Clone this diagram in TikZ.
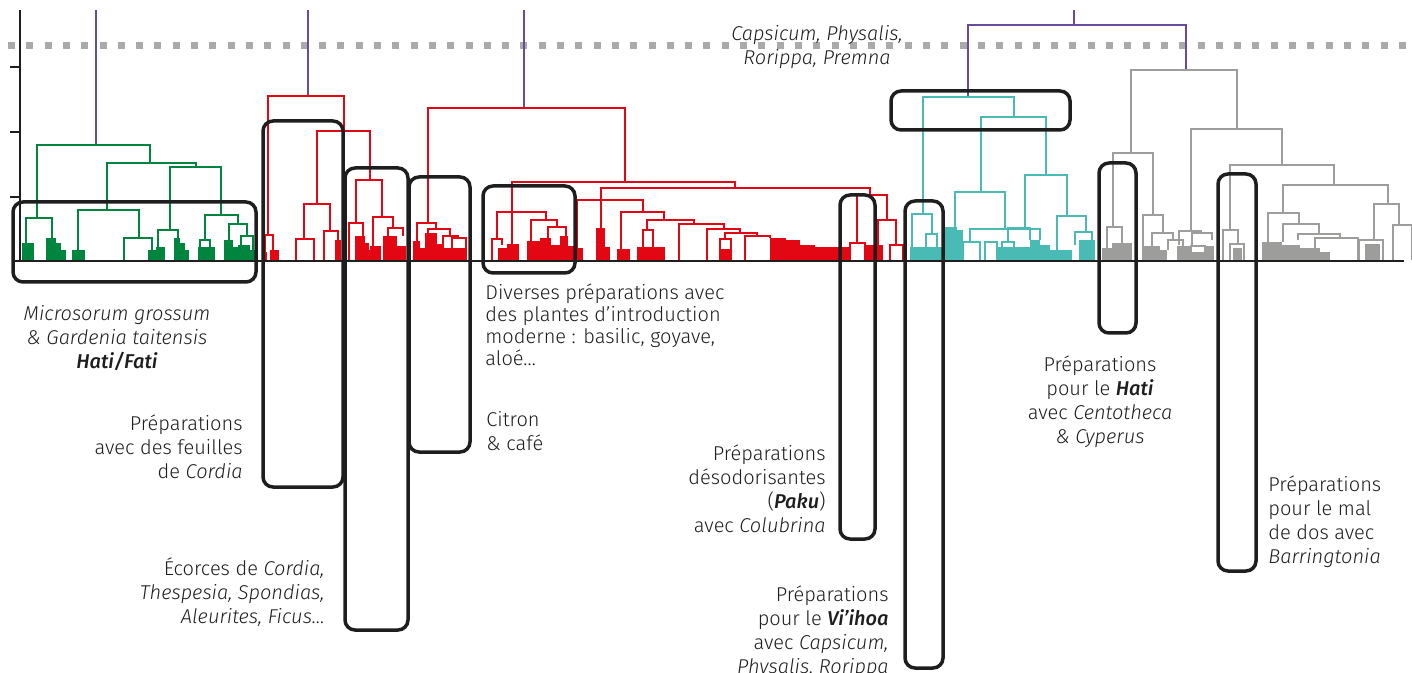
\documentclass[tikz,border=0pt]{standalone}
\usepackage{fontspec}
\setmainfont{Fira Sans}[UprightFont=* Light, ItalicFont=* Light Italic,
  BoldFont=* Medium, BoldItalicFont=* Medium Italic]

\definecolor{dgreen}{RGB}{0,133,62}
\definecolor{dred}{RGB}{227,6,19}
\definecolor{dteal}{RGB}{74,186,180}
\definecolor{dgrey}{RGB}{157,157,156}
\definecolor{dpurple}{RGB}{102,76,158}
\definecolor{ddash}{RGB}{170,170,170}
\definecolor{dink}{RGB}{30,30,30}

% bracket: left x, right x, height, foot of left, foot of right
\newcommand\lnk[5]{\draw[tree] (#1,#4) -- (#1,#3) -- (#2,#3) -- (#2,#5);}
% leaf block down to the base line
\newcommand\blk[3]{\fill (#1,#3) rectangle (#2,260);}

\begin{document}
\begin{tikzpicture}[x=0.5pt,y=-0.5pt,
    tree/.style={line width=1.2pt},
    frame/.style={draw=dink,line width=1.75pt,rounded corners=5pt},
    lbl/.style={inner sep=0pt,text=dink,font=\fontsize{10}{12}\selectfont}]

    \useasboundingbox (0,0) rectangle (1412,673);

    % cut level
    \draw[ddash,line width=3.5pt,dash pattern=on 3.5pt off 5.65pt] (8,46) -- (1412,46);

    % axis
    \draw[dink,line width=1.1pt] (20,10) -- (20,262);
    \draw[dink,line width=1.1pt] (10,67) -- (20,67) (10,132) -- (20,132) (10,197) -- (20,197);

    % top links
    \begin{scope}[dpurple]
        \draw[tree] (96,10) -- (96,145);
        \draw[tree] (308,10) -- (308,96);
        \draw[tree] (524,10) -- (524,108);
        \draw[tree] (1074,10) -- (1074,25);
        \lnk{968}{1186}{25}{96}{70}
    \end{scope}

    % green group
    \begin{scope}[dgreen]
        \lnk{37}{150}{145}{218}{163}
        \lnk{26}{52}{218}{243}{238}
        \blk{22}{34}{243}
        \blk{46}{56}{238} \blk{56}{61}{243} \blk{61}{66}{250}
        \lnk{107}{196}{163}{210}{167}
        \lnk{78}{139}{210}{250}{238}
        \blk{72}{85}{250}
        \lnk{124}{152}{238}{260}{250}
        \blk{148}{165}{250}
        \lnk{170}{221}{167}{230}{215}
        \lnk{158}{178}{230}{247}{238}
        \blk{156}{165}{247}
        \blk{174}{180}{238} \blk{180}{185}{243} \blk{185}{189}{250}
        \lnk{205}{238}{215}{240}{224}
        \lnk{200}{210}{240}{247}{247}
        \blk{198}{215}{247}
        \lnk{229}{247}{224}{240}{236}
        \blk{224}{233}{240} \blk{233}{240}{247}
        \lnk{241}{253}{236}{245}{250}
        \blk{238}{250}{245} \blk{250}{258}{250}
    \end{scope}

    % red groups
    \begin{scope}[dred]
        \lnk{268}{344}{96}{235}{131}
        \lnk{265}{273}{235}{252}{250}
        \blk{262}{267}{252} \blk{270}{279}{250}
        \lnk{317}{370}{131}{204}{180}
        \lnk{304}{330}{204}{239}{231}
        \lnk{296}{314}{239}{260}{260}
        \lnk{324}{338}{231}{260}{240}
        \blk{335}{341}{240}
        \lnk{356}{382}{180}{223}{217}
        \lnk{349}{363}{223}{260}{236}
        \blk{355}{365}{236} \blk{365}{369}{243} \blk{369}{372}{250}
        \lnk{373}{393}{217}{246}{228}
        \blk{370}{381}{246}
        \lnk{388}{403}{228}{236}{236}
        \blk{383}{397}{236} \blk{397}{406}{246}

        \lnk{428}{625}{108}{223}{182}
        \lnk{417}{436}{223}{241}{229}
        \blk{413}{420}{241} \blk{420}{425}{248}
        \lnk{428}{450}{229}{233}{236}
        \blk{425}{437}{233} \blk{437}{443}{244}
        \lnk{443}{458}{236}{248}{238}
        \lnk{452}{466}{238}{248}{248}
        \blk{443}{467}{248}

        \lnk{512}{735}{182}{244}{188}
        \blk{507}{519}{244}
        \lnk{497}{546}{212}{239}{220}
        \lnk{492}{502}{239}{260}{245}
        \blk{498}{508}{248}
        \lnk{531}{557}{220}{241}{227}
        \blk{527}{540}{241}
        \lnk{548}{566}{227}{238}{236}
        \blk{540}{551}{238} \blk{551}{560}{245} \blk{560}{568}{236} \blk{568}{575}{246}

        \lnk{601}{870}{188}{228}{195}
        \blk{596}{605}{228} \blk{605}{610}{247}
        \lnk{577}{643}{200}{248}{212}
        \blk{572}{583}{248}
        \lnk{621}{664}{212}{249}{220}
        \blk{617}{630}{249}
        \lnk{647}{694}{220}{230}{224}
        \lnk{643}{653}{230}{247}{247}
        \blk{637}{665}{247}
        \lnk{679}{724}{224}{260}{229}
        \lnk{707}{740}{229}{260}{233}
        \lnk{725}{757}{233}{239}{236}
        \lnk{720}{731}{239}{249}{249}
        \blk{719}{732}{249}
        \lnk{745}{770}{236}{260}{238}
        \blk{770}{786}{238} \blk{786}{800}{240} \blk{800}{815}{245} \blk{815}{849}{247}
        \lnk{857}{887}{195}{243}{220}
        \lnk{850}{865}{243}{260}{260}
        \blk{865}{883}{245}
        \lnk{878}{896}{220}{260}{245}
        \lnk{890}{903}{245}{260}{260}
    \end{scope}

    % teal group
    \begin{scope}[dteal]
        \lnk{923}{1014}{97}{214}{117}
        \lnk{912}{932}{214}{247}{234}
        \lnk{926}{937}{234}{247}{247}
        \blk{910}{943}{247}
        \blk{943}{957}{227} \blk{957}{963}{230}
        \lnk{981}{1046}{117}{192}{175}
        \lnk{955}{1005}{192}{227}{229}
        \lnk{970}{1040}{229}{242}{240}
        \lnk{963}{980}{242}{260}{260}
        \lnk{985}{997}{242}{260}{260}
        \lnk{1025}{1067}{175}{228}{216}
        \lnk{1008}{1030}{228}{242}{240}
        \lnk{1002}{1014}{242}{247}{247}
        \blk{997}{1030}{247} \blk{1030}{1040}{240} \blk{1040}{1050}{245} \blk{1050}{1072}{250}
        \lnk{1057}{1086}{216}{260}{232}
        \lnk{1075}{1092}{232}{245}{240}
        \blk{1079}{1095}{240}
    \end{scope}

    % grey group
    \begin{scope}[dgrey]
        \lnk{1131}{1237}{70}{153}{129}
        \lnk{1113}{1153}{153}{227}{215}
        \lnk{1107}{1122}{227}{248}{243}
        \blk{1102}{1112}{248} \blk{1112}{1132}{243}
        \lnk{1143}{1163}{215}{246}{233}
        \blk{1142}{1160}{246} \blk{1160}{1167}{250}
        \lnk{1152}{1173}{233}{246}{240}
        \lnk{1168}{1183}{240}{250}{248}
        \lnk{1191}{1282}{129}{231}{165}
        \lnk{1179}{1201}{231}{245}{233}
        \lnk{1192}{1212}{233}{246}{240}
        \lnk{1191}{1205}{246}{252}{252}
        \blk{1177}{1191}{246} \blk{1191}{1205}{252} \blk{1205}{1214}{246}
        \lnk{1230}{1334}{165}{230}{185}
        \lnk{1223}{1238}{230}{260}{244}
        \lnk{1230}{1244}{244}{260}{260}
        \blk{1233}{1242}{248}
        \lnk{1283}{1388}{185}{213}{204}
        \lnk{1268}{1299}{213}{242}{224}
        \lnk{1283}{1319}{224}{242}{234}
        \lnk{1298}{1340}{234}{240}{238}
        \lnk{1315}{1358}{238}{260}{260}
        \blk{1262}{1282}{242} \blk{1282}{1300}{245} \blk{1300}{1320}{248} \blk{1320}{1330}{252}
        \lnk{1374}{1399}{204}{240}{225}
        \lnk{1359}{1383}{240}{260}{260}
        \blk{1365}{1380}{244}
        \lnk{1393}{1412}{225}{260}{260}
    \end{scope}

    % base line
    \draw[dink,line width=1.3pt] (12,261) -- (1404,261);

    % frames
    \draw[frame] (13,202) rectangle (256,282);
    \draw[frame] (263,121) rectangle (343,487);
    \draw[frame] (345,168) rectangle (408,630);
    \draw[frame] (409,177) rectangle (470,452);
    \draw[frame] (483,186) rectangle (575,273);
    \draw[frame] (840,195) rectangle (875,539);
    \draw[frame] (905,201) rectangle (943,668);
    \draw[frame] (891,91) rectangle (1070,130);
    \draw[frame] (1099,163) rectangle (1136,333);
    \draw[frame] (1218,174) rectangle (1256,571);

    % labels
    \node[lbl,anchor=north,align=center] (capsicum) at (817,25)
        {\textit{Capsicum, Physalis,}\\ \textit{Rorippa, Premna}};
    \node[lbl,anchor=north,align=center] (hatifati) at (117,305)
        {\textit{Microsorum grossum}\\ \textit{\& Gardenia taitensis}\\ \textbf{\textit{Hati/Fati}}};
    \node[lbl,anchor=north east,align=right] (feuilles) at (243,414)
        {Préparations\\ avec des feuilles\\ de \textit{Cordia}};
    \node[lbl,anchor=north east,align=right] (ecorces) at (325,557)
        {Écorces de \textit{Cordia,}\\ \textit{Thespesia, Spondias,}\\ \textit{Aleurites, Ficus\ldots}};
    \node[lbl,anchor=north west,align=left,font=\fontsize{10}{11}\selectfont] (diverses) at (485,283)
        {Diverses préparations avec\\ des plantes d’introduction\\ moderne : basilic, goyave,\\ aloé\ldots};
    \node[lbl,anchor=north west,align=left] (citron) at (486,411)
        {Citron\\ \& café};
    \node[lbl,anchor=north east,align=right] (paku) at (826,444)
        {Préparations\\ désodorisantes\\ (\textbf{\textit{Paku}})\\ avec \textit{Colubrina}};
    \node[lbl,anchor=north east,align=right] (vihoa) at (889,585)
        {Préparations\\ pour le \textbf{\textit{Vi’ihoa}}\\ avec \textit{Capsicum,}\\ \textit{Physalis, Rorippa}};
    \node[lbl,anchor=north,align=center] (hati) at (1100,355)
        {Préparations\\ pour le \textbf{\textit{Hati}}\\ avec \textit{Centotheca}\\ \textit{\& Cyperus}};
    \node[lbl,anchor=north west,align=left] (maldos) at (1268,475)
        {Préparations\\ pour le mal\\ de dos avec\\ \textit{Barringtonia}};

\end{tikzpicture}
\end{document}
